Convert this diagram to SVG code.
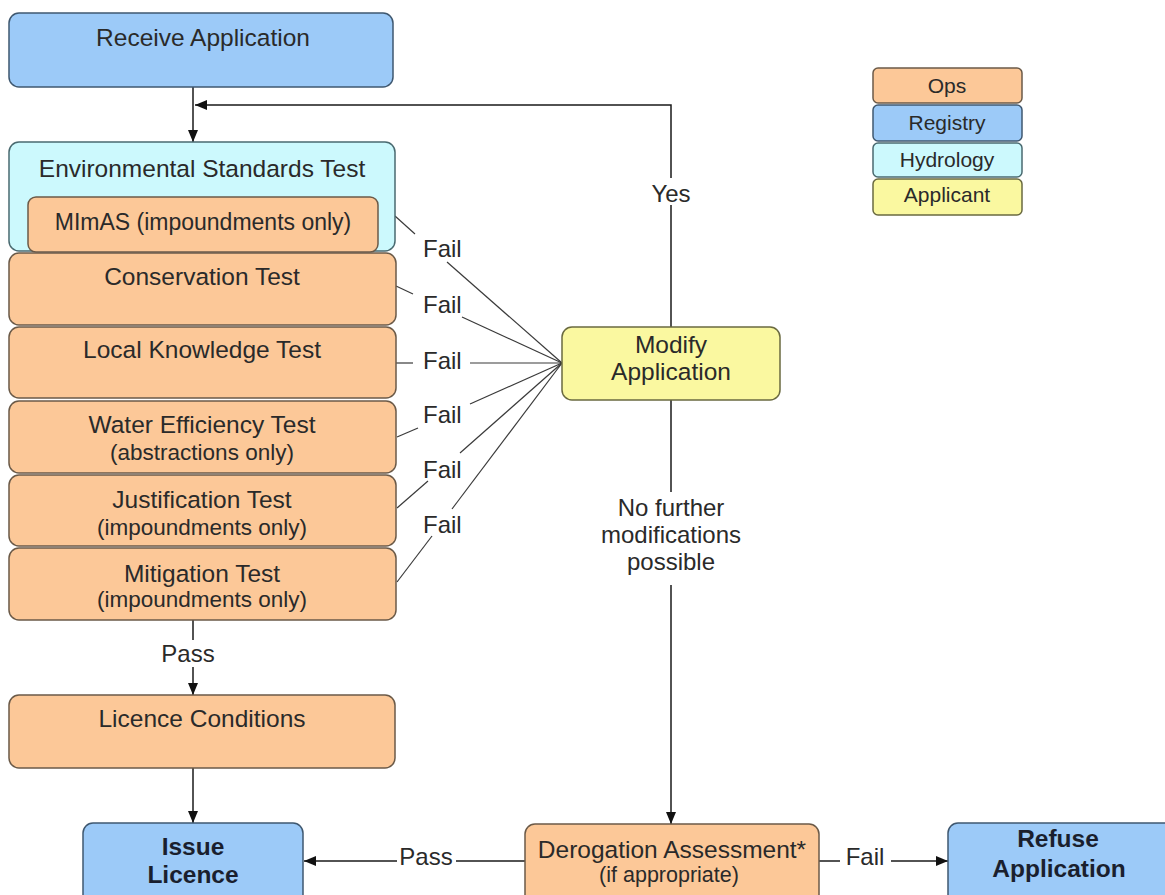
<svg xmlns="http://www.w3.org/2000/svg" width="1165" height="895" viewBox="0 0 1165 895">
<style>
  .box { stroke: #4a4a4a; stroke-width: 1.5; }
  .ops { fill: #FCC898; stroke: #6b5a48; }
  .reg { fill: #9CCAF8; stroke: #3f5870; }
  .hyd { fill: #CCF9FD; stroke: #4a6a70; }
  .app { fill: #FAF8A0; stroke: #6a6a40; }
  text { font-family: "Liberation Sans", Arial, sans-serif; fill: #2a2a2a; }
  .t { font-size: 24.5px; text-anchor: middle; }
  .s { font-size: 22.5px; text-anchor: middle; }
  .b { font-size: 24.5px; font-weight: bold; text-anchor: middle; fill: #1a1f2e; }
  .lg { font-size: 21px; text-anchor: middle; }
  .lbl { font-size: 24px; }
  .c { stroke: #1a1a1a; stroke-width: 1.5; fill: none; }
  .f { stroke: #3a3a3a; stroke-width: 1.2; fill: none; }
</style>
<defs>
  <marker id="arr" markerUnits="userSpaceOnUse" markerWidth="12" markerHeight="12" viewBox="0 0 12 12" refX="12" refY="6" orient="auto">
    <path d="M0,1 L12,6 L0,11 Z" fill="#111"/>
  </marker>
</defs>
<rect width="1165" height="895" fill="#ffffff"/>

<g id="connectors">
  <!-- Receive -> Env -->
  <line class="c" x1="193" y1="87" x2="193" y2="142" marker-end="url(#arr)"/>
  <!-- Yes loop -->
  <path class="c" d="M671,178 L671,105 L195,105" marker-end="url(#arr)"/>
  <line class="c" x1="671" y1="205" x2="671" y2="327"/>
  <text class="lbl" x="671" y="202" text-anchor="middle">Yes</text>
  <!-- No further modifications -->
  <line class="c" x1="671" y1="400" x2="671" y2="492"/>
  <line class="c" x1="671" y1="585" x2="671" y2="824" marker-end="url(#arr)"/>
  <text class="lbl" x="671" y="516" text-anchor="middle">No further</text>
  <text class="lbl" x="671" y="543" text-anchor="middle">modifications</text>
  <text class="lbl" x="671" y="570" text-anchor="middle">possible</text>
  <!-- Fail lines -->
  <line class="f" x1="395" y1="216" x2="415" y2="234"/>
  <line class="f" x1="447" y1="262" x2="562" y2="363"/>
  <text class="lbl" x="423" y="257">Fail</text>
  <line class="f" x1="396" y1="286" x2="413" y2="294"/>
  <line class="f" x1="462" y1="317" x2="562" y2="363"/>
  <text class="lbl" x="423" y="313">Fail</text>
  <line class="f" x1="396" y1="363" x2="413" y2="363"/>
  <line class="f" x1="470" y1="363" x2="562" y2="363"/>
  <text class="lbl" x="423" y="369">Fail</text>
  <line class="f" x1="397" y1="437" x2="418" y2="428"/>
  <line class="f" x1="470" y1="404" x2="562" y2="363"/>
  <text class="lbl" x="423" y="423">Fail</text>
  <line class="f" x1="397" y1="508" x2="428" y2="481"/>
  <line class="f" x1="460" y1="453" x2="562" y2="363"/>
  <text class="lbl" x="423" y="478">Fail</text>
  <line class="f" x1="397" y1="582" x2="432" y2="536"/>
  <line class="f" x1="452" y1="509" x2="562" y2="363"/>
  <text class="lbl" x="423" y="533">Fail</text>
  <!-- Pass down -->
  <line class="c" x1="193" y1="620" x2="193" y2="640"/>
  <line class="c" x1="193" y1="667" x2="193" y2="695" marker-end="url(#arr)"/>
  <text class="lbl" x="188" y="662" text-anchor="middle">Pass</text>
  <!-- Licence conditions -> Issue -->
  <line class="c" x1="193" y1="768" x2="193" y2="823" marker-end="url(#arr)"/>
  <!-- Derogation pass -->
  <line class="c" x1="525" y1="861" x2="456" y2="861"/>
  <line class="c" x1="397" y1="861" x2="304" y2="861" marker-end="url(#arr)"/>
  <text class="lbl" x="426" y="865" text-anchor="middle">Pass</text>
  <!-- Derogation fail -->
  <line class="c" x1="819" y1="861" x2="840" y2="861"/>
  <line class="c" x1="891" y1="861" x2="948" y2="861" marker-end="url(#arr)"/>
  <text class="lbl" x="865" y="865" text-anchor="middle">Fail</text>
</g>

<g id="receive-application">
  <rect class="box reg" x="9" y="13" width="384" height="74" rx="10"/>
  <text class="t" x="203" y="46">Receive Application</text>
</g>

<g id="environmental-standards-test">
  <rect class="box hyd" x="9" y="142" width="386" height="109" rx="10"/>
  <text class="t" x="202" y="177">Environmental Standards Test</text>
</g>

<g id="mimas">
  <rect class="box ops" x="28" y="197" width="350" height="55" rx="8"/>
  <text class="t" x="203" y="230" style="font-size:23px">MImAS (impoundments only)</text>
</g>

<g id="conservation-test">
  <rect class="box ops" x="9" y="253" width="387" height="72" rx="10"/>
  <text class="t" x="202" y="285">Conservation Test</text>
</g>

<g id="local-knowledge-test">
  <rect class="box ops" x="9" y="327" width="387" height="71" rx="10"/>
  <text class="t" x="202" y="358">Local Knowledge Test</text>
</g>

<g id="water-efficiency-test">
  <rect class="box ops" x="9" y="401" width="387" height="72" rx="10"/>
  <text class="t" x="202" y="433">Water Efficiency Test</text>
  <text class="s" x="202" y="460">(abstractions only)</text>
</g>

<g id="justification-test">
  <rect class="box ops" x="9" y="475" width="387" height="71" rx="10"/>
  <text class="t" x="202" y="508">Justification Test</text>
  <text class="s" x="202" y="535">(impoundments only)</text>
</g>

<g id="mitigation-test">
  <rect class="box ops" x="9" y="548" width="387" height="72" rx="10"/>
  <text class="t" x="202" y="582">Mitigation Test</text>
  <text class="s" x="202" y="607">(impoundments only)</text>
</g>

<g id="licence-conditions">
  <rect class="box ops" x="9" y="695" width="386" height="73" rx="10"/>
  <text class="t" x="202" y="727">Licence Conditions</text>
</g>

<g id="issue-licence">
  <rect class="box reg" x="83" y="823" width="220" height="82" rx="10"/>
  <text class="b" x="193" y="855">Issue</text>
  <text class="b" x="193" y="883">Licence</text>
</g>

<g id="modify-application">
  <rect class="box app" x="562" y="327" width="218" height="73" rx="10"/>
  <text class="t" x="671" y="353">Modify</text>
  <text class="t" x="671" y="380">Application</text>
</g>

<g id="derogation-assessment">
  <rect class="box ops" x="525" y="824" width="294" height="82" rx="10"/>
  <text class="t" x="672" y="858">Derogation Assessment*</text>
  <text class="s" x="669" y="882" style="font-size:21.5px">(if appropriate)</text>
</g>

<g id="refuse-application">
  <rect class="box reg" x="948" y="823" width="230" height="82" rx="10"/>
  <text class="b" x="1058" y="847">Refuse</text>
  <text class="b" x="1059" y="877">Application</text>
</g>

<g id="legend">
  <rect class="box ops" x="873" y="68" width="149" height="35" rx="5"/>
  <text class="lg" x="947" y="93">Ops</text>
  <rect class="box reg" x="873" y="105" width="149" height="36" rx="5"/>
  <text class="lg" x="947" y="130">Registry</text>
  <rect class="box hyd" x="873" y="143" width="149" height="34" rx="5"/>
  <text class="lg" x="947" y="167">Hydrology</text>
  <rect class="box app" x="873" y="179" width="149" height="36" rx="5"/>
  <text class="lg" x="947" y="202">Applicant</text>
</g>
</svg>
